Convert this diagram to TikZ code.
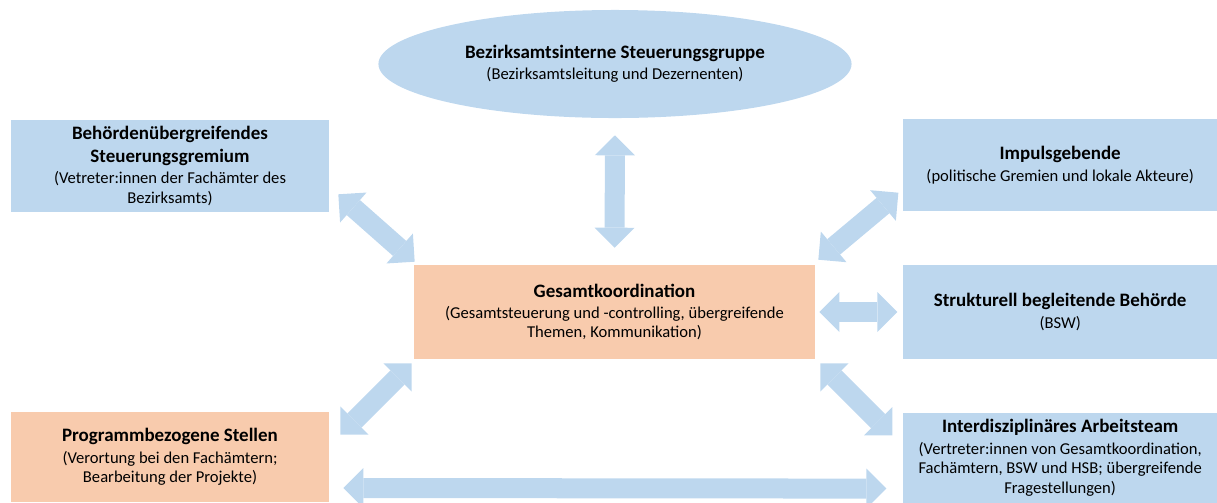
\documentclass[tikz,border=0pt]{standalone}
\usepackage{fontspec}
\setmainfont{Carlito}
\usepackage{xcolor}
\usepackage{tikz}
\usetikzlibrary{shapes.geometric, arrows.meta, positioning}

\definecolor{boxblue}{HTML}{BDD7EE}
\definecolor{boxorange}{HTML}{F8CBAD}

\newcommand{\boxtitle}[1]{{\fontsize{13.5}{16}\selectfont\bfseries #1}}

\begin{document}
\begin{tikzpicture}[
    x=0.025cm, y=-0.025cm,
    % Define styles for the nodes
    base_node/.style={rectangle, align=center, inner sep=0pt, font=\fontsize{11.8}{13.8}\selectfont},
    blue_node/.style={base_node, fill=boxblue},
    orange_node/.style={base_node, fill=boxorange},
    group_node/.style={ellipse, fill=boxblue, align=center, inner sep=0pt, font=\fontsize{11.8}{13.8}\selectfont},
    % Style for the broad double arrows
    link/.style={draw=boxblue, line width=0.5cm,
        {Triangle[width=1cm 0 0, length=0.5cm 0 0, line width=0pt 0 0]}-{Triangle[width=1cm 0 0, length=0.5cm 0 0, line width=0pt 0 0]}}
]
    \useasboundingbox (0,0) rectangle (1217,502);

    % =========================================================================
    % CENTRE AND TOP
    % =========================================================================
    \node (coordination) [orange_node, minimum width=10.025cm, minimum height=2.35cm] at (614.5,312)
        {\boxtitle{Gesamtkoordination}\\[1.5pt](Gesamtsteuerung und -controlling, übergreifende\\Themen, Kommunikation)};

    \node (steer_group) [group_node, minimum width=11.825cm, minimum height=2.7cm] at (615,64)
        {\boxtitle{Bezirksamtsinterne Steuerungsgruppe}\\[1.5pt](Bezirksamtsleitung und Dezernenten)};

    % =========================================================================
    % LEFT COLUMN
    % =========================================================================
    \node (cross_board) [blue_node, minimum width=7.95cm, minimum height=2.3cm] at (170,166)
        {\boxtitle{Behördenübergreifendes}\\[2.6pt]\boxtitle{Steuerungsgremium}\\[1.2pt](Vetreter:innen der Fachämter des\\Bezirksamts)};

    \node (prog_units) [orange_node, minimum width=7.95cm, minimum height=2.25cm] at (170,457)
        {\boxtitle{Programmbezogene Stellen}\\[1.5pt](Verortung bei den Fachämtern;\\Bearbeitung der Projekte)};

    % =========================================================================
    % RIGHT COLUMN
    % =========================================================================
    \node (struct_auth) [blue_node, minimum width=7.875cm, minimum height=2.35cm, right=2.175cm of coordination]
        {\boxtitle{Strukturell begleitende Behörde}\\[1.5pt](BSW)};

    \node (impulse) [blue_node, minimum width=7.875cm, minimum height=2.3cm, above=1.325cm of struct_auth]
        {\boxtitle{Impulsgebende}\\[1.5pt](politische Gremien und lokale Akteure)};

    \node (team) [blue_node, minimum width=7.875cm, minimum height=2.25cm, below=1.325cm of struct_auth]
        {\boxtitle{Interdisziplinäres Arbeitsteam}\\[1.5pt](Vertreter:innen von Gesamtkoordination,\\Fachämtern, BSW und HSB; übergreifende\\Fragestellungen)};

    % =========================================================================
    % DOUBLE ARROWS
    % =========================================================================
    \draw [link, shorten <=0.425cm, shorten >=0.425cm] (steer_group.south) -- (coordination.north);
    \draw [link] ([shift={(9,-18)}]cross_board.south east) -- ([shift={(1,-3)}]coordination.north west);
    \draw [link] ([shift={(3,-5)}]coordination.north east) -- ([shift={(-4,-19)}]impulse.south west);
    \draw [link, shorten <=0.1cm, shorten >=0.125cm] (coordination.east) -- (struct_auth.west);
    \draw [link] ([shift={(11,23)}]prog_units.north east) -- ([shift={(-2,4)}]coordination.south west);
    \draw [link] ([shift={(5,4)}]coordination.south east) -- ([shift={(-10,23)}]team.north west);
    \draw [link] ([shift={(14,31)}]prog_units.east) -- ([shift={(-16,31)}]team.west);

\end{tikzpicture}
\end{document}
